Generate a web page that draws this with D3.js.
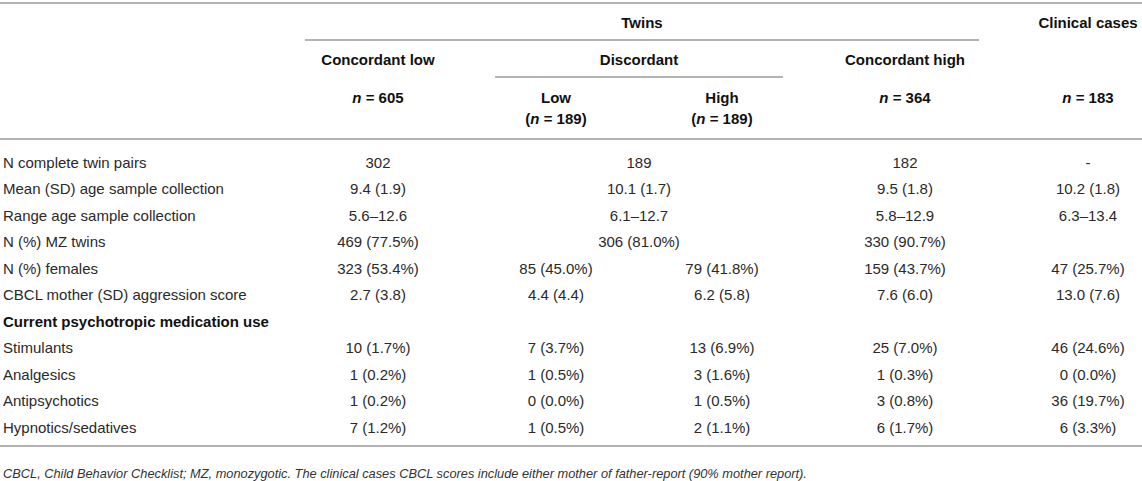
<!DOCTYPE html>
<html>
<head>
<meta charset="utf-8">
<script src="https://cdn.jsdelivr.net/npm/d3@7"></script>
<style>
  body { margin: 0; background: #fff; }
  svg { display: block; font-family: "Liberation Sans", Arial, sans-serif; }
  .body-text { font-size: 15px; fill: #2a2a2a; }
  .head-text { font-size: 15px; font-weight: bold; fill: #111; }
  .foot { font-size: 12.8px; font-style: italic; fill: #333; }
  .rule { stroke: #b3b3b3; stroke-width: 2; }
</style>
</head>
<body>
<svg id="graphic" width="1142" height="481"></svg>
<script>
// row labels (first column)
let rowLabels = [
    "N complete twin pairs",
    "Mean (SD) age sample collection",
    "Range age sample collection",
    "N (%) MZ twins",
    "N (%) females",
    "CBCL mother (SD) aggression score",
    "Current psychotropic medication use",
    "Stimulants",
    "Analgesics",
    "Antipsychotics",
    "Hypnotics/sedatives"
];
let boldRows = ["Current psychotropic medication use"];

// column values, one per row ("" = empty cell, null = covered by the spanned discordant cell)
let concordantLow = ["302", "9.4 (1.9)", "5.6–12.6", "469 (77.5%)", "323 (53.4%)", "2.7 (3.8)", "",
    "10 (1.7%)", "1 (0.2%)", "1 (0.2%)", "7 (1.2%)"];
let discordantBoth = ["189", "10.1 (1.7)", "6.1–12.7", "306 (81.0%)", null, null, null, null, null, null, null];
let discordantLow = [null, null, null, null, "85 (45.0%)", "4.4 (4.4)", "",
    "7 (3.7%)", "1 (0.5%)", "0 (0.0%)", "1 (0.5%)"];
let discordantHigh = [null, null, null, null, "79 (41.8%)", "6.2 (5.8)", "",
    "13 (6.9%)", "3 (1.6%)", "1 (0.5%)", "2 (1.1%)"];
let concordantHigh = ["182", "9.5 (1.8)", "5.8–12.9", "330 (90.7%)", "159 (43.7%)", "7.6 (6.0)", "",
    "25 (7.0%)", "1 (0.3%)", "3 (0.8%)", "6 (1.7%)"];
let clinical = ["-", "10.2 (1.8)", "6.3–13.4", "", "47 (25.7%)", "13.0 (7.6)", "",
    "46 (24.6%)", "0 (0.0%)", "36 (19.7%)", "6 (3.3%)"];

let columns = [
    { key: "cl", values: concordantLow },
    { key: "disc", values: discordantBoth },
    { key: "low", values: discordantLow },
    { key: "high", values: discordantHigh },
    { key: "ch", values: concordantHigh },
    { key: "cc", values: clinical }
];

// header labels
let groupHeads = [
    { key: "twins", text: "Twins" },
    { key: "cc", text: "Clinical cases" }
];
let subHeads = [
    { key: "cl", text: "Concordant low" },
    { key: "disc", text: "Discordant" },
    { key: "ch", text: "Concordant high" }
];
let nHeads = [
    { key: "cl", n: "605", top: null, paren: false },
    { key: "low", n: "189", top: "Low", paren: true },
    { key: "high", n: "189", top: "High", paren: true },
    { key: "ch", n: "364", top: null, paren: false },
    { key: "cc", n: "183", top: null, paren: false }
];

let footnote = "CBCL, Child Behavior Checklist; MZ, monozygotic. The clinical cases CBCL scores include either mother of father-report (90% mother report).";

let width = 1142;

let xCol = d3.scaleOrdinal()
    .domain(["cl", "disc", "low", "high", "ch", "cc", "twins"])
    .range([378, 639, 556, 722, 905, 1088, 642]);

let yRow = d3.scalePoint()
    .domain(rowLabels)
    .range([162, 427]);

let svg = d3.select('#graphic');

// horizontal rules
let rules = [
    { x1: 0, x2: width, y: 3 },
    { x1: 305, x2: 979, y: 40 },
    { x1: 495, x2: 783, y: 77 },
    { x1: 0, x2: width, y: 139 },
    { x1: 0, x2: width, y: 446 }
];
svg.selectAll('.rule')
    .data(rules)
    .enter()
    .append('line')
    .classed('rule', true)
    .attr('x1', d => d.x1)
    .attr('x2', d => d.x2)
    .attr('y1', d => d.y)
    .attr('y2', d => d.y);

// header
svg.selectAll('.group-head')
    .data(groupHeads)
    .enter()
    .append('text')
    .attr('class', 'head-text group-head')
    .attr('x', d => xCol(d.key))
    .attr('y', 22)
    .attr('text-anchor', 'middle')
    .attr('dominant-baseline', 'central')
    .text(d => d.text);

svg.selectAll('.sub-head')
    .data(subHeads)
    .enter()
    .append('text')
    .attr('class', 'head-text sub-head')
    .attr('x', d => xCol(d.key))
    .attr('y', 59)
    .attr('text-anchor', 'middle')
    .attr('dominant-baseline', 'central')
    .text(d => d.text);

let nG = svg.selectAll('.n-head')
    .data(nHeads)
    .enter()
    .append('g')
    .classed('n-head', true);

nG.filter(d => d.top)
    .append('text')
    .attr('class', 'head-text')
    .attr('x', d => xCol(d.key))
    .attr('y', 97)
    .attr('text-anchor', 'middle')
    .attr('dominant-baseline', 'central')
    .text(d => d.top);

let nText = nG.append('text')
    .attr('class', 'head-text')
    .attr('x', d => xCol(d.key))
    .attr('y', d => d.top ? 118 : 97)
    .attr('text-anchor', 'middle')
    .attr('dominant-baseline', 'central');
nText.append('tspan').text(d => d.paren ? "(" : "");
nText.append('tspan').attr('font-style', 'italic').text("n");
nText.append('tspan').text(d => " = " + d.n + (d.paren ? ")" : ""));

// row labels
svg.selectAll('.row-label')
    .data(rowLabels)
    .enter()
    .append('text')
    .attr('class', d => boldRows.includes(d) ? 'head-text row-label' : 'body-text row-label')
    .attr('x', 3)
    .attr('y', d => yRow(d))
    .attr('dominant-baseline', 'central')
    .text(d => d);

// cells
let cells = [];
columns.forEach(c => {
    c.values.forEach((v, i) => {
        if (v) cells.push({ key: c.key, row: rowLabels[i], value: v });
    });
});

svg.selectAll('.cell')
    .data(cells)
    .enter()
    .append('text')
    .attr('class', 'body-text cell')
    .attr('x', d => xCol(d.key))
    .attr('y', d => yRow(d.row))
    .attr('text-anchor', 'middle')
    .attr('dominant-baseline', 'central')
    .text(d => d.value);

// footnote
svg.append('text')
    .attr('class', 'foot')
    .attr('x', 3)
    .attr('y', 473)
    .attr('dominant-baseline', 'central')
    .text(footnote);
</script>
</body>
</html>
